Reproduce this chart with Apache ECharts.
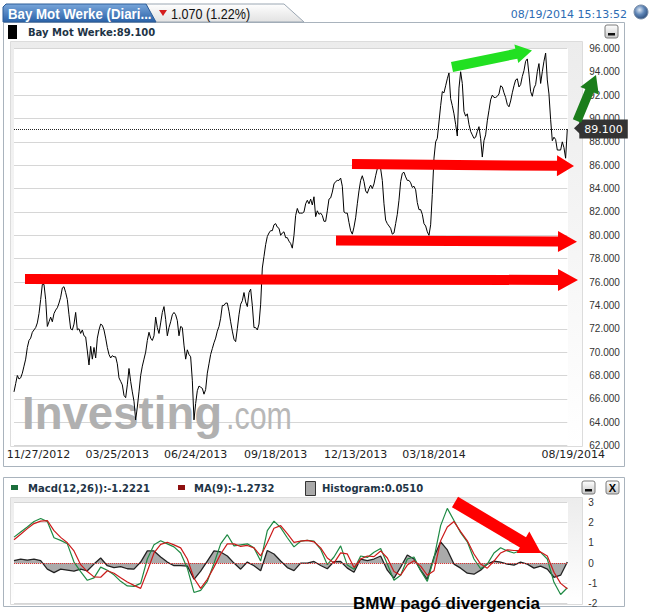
<!DOCTYPE html>
<html><head><meta charset="utf-8">
<script src="https://cdn.jsdelivr.net/npm/echarts@6/dist/echarts.min.js"></script>
<style>html,body{margin:0;padding:0;background:#fff;} #c{width:670px;height:612px;}</style>
</head><body><div id="c"></div><script>
// ---------------- data ----------------
const priceValues = [
66.6,67.3,68,67.7,67.8,68.2,68.8,69.4,70.4,71,
71.2,71.7,71.9,72.1,72.5,73.3,74.5,75.8,75.8,74.5,
72.2,72.6,73,72.6,73.3,73.6,73.8,74.2,74.7,75.5,
75.6,75.1,74.5,73.2,72,71.9,72.4,73.4,71.9,72,
71.6,71.9,71.4,71.3,70.1,68.9,70.5,69.4,70.4,69.5,
71.2,71.9,72.4,72.3,71.9,71.2,70.4,69.8,69.5,69.7,
69.6,69.6,69,67.8,67.5,67.2,66.3,66.1,67.2,68.6,
67.5,66.6,65.8,64.2,65.3,66.6,68,68.8,69.4,70,
71,71.7,71.2,71,71.4,
73.0,72.1,71.6,72.5,73.4,73.9,72.8,71.4,72.1,72.6,
73.2,73.4,73.2,72.7,71.4,72.2,72.1,70.6,69.4,70.2,
69.8,69.6,67.6,64.2,65.6,66.7,67.1,67,66.9,66.4,
66.8,68.2,69,69.8,70.3,70.8,71.2,71.8,72.2,72.9,
74,74,74.2,74.2,73.5,72.6,71.8,71.1,70.9,72,
73.2,74.1,74.4,75.1,74.3,73.9,75.1,75.4,74,72.1,
72.1,71.9,72.4,74.1,77.2,78.2,79.2,79.9,80.2,80.4,
80.4,80.9,81,80.7,80.6,80,80.2,80.3,79.8,79.8,
79.5,79.3,78.9,80.0,
81.7,82.3,81.9,81.9,81.9,82,82.7,83,82.7,83.1,
82.6,83.3,81.6,82.1,81.8,81.9,81.7,81.2,81.2,82.1,
83.1,83.2,83.7,84.4,84.6,84.7,84.7,84.9,84.2,82,
81.9,81.9,81.1,80.4,80.1,80.7,81.5,82.7,83.8,84.7,
85.1,84.6,83.8,83.6,84,84.3,84,84.4,85.1,85.7,
86,85.7,84.7,82.7,81.3,81,80.8,80.6,80.1,80.2,
81,81.8,83,84.6,85.3,85.4,85,84.7,84.7,84.5,
84.1,84.2,83.9,82.8,82.2,82.2,81.8,81,80.8,80.3,
80,80.9,83.5,86.6,
88.0,88.3,89.7,91.1,92.3,92.2,92.8,93.4,93.9,91.7,
91.1,90.4,89.5,88.5,92.6,94,93,90.6,90.2,90.4,
89.5,88.9,88.6,88.3,88.4,88.9,89.3,88.3,86.7,88.1,
88.6,89.8,90.7,91.6,92,91.8,91.8,91.9,92.1,92.8,
92.7,92.2,91.8,91.2,91,91.5,92.2,92.8,93.3,93.4,
92.7,92.9,93.6,94.1,94.9,95.1,93.8,92.3,91.9,92.6,
92.9,94,94.7,93,94,94.9,95.6,93.3,92.1,89.9,
88.1,88.4,88.2,87.3,87.3,87.3,88,87.5,86.6,89.1
];
const dateLabels = ['11/27/2012','03/25/2013','06/24/2013','09/18/2013','12/13/2013','03/18/2014','08/19/2014'];
const dateLabelIdx = [0,62,109,157,205,252,332];
const priceTicks = {min:62, max:96, step:2};

const macdValues = [
1.28,1.53,1.78,2.05,2.2,2.05,1.25,1.12,0.95,0.05,
-0.42,-0.85,-0.73,-0.2,-0.35,-0.58,-0.9,-1.13,-1.15,-1.0,
0.2,0.9,1.1,0.95,0.8,0.5,-0.25,-1.45,-1.35,-0.9,
-0.02,0.95,1.4,0.85,0.9,0.95,0.75,0.1,1.6,2.07,
1.75,1.25,0.8,1.08,1.12,1.08,0.68,-0.08,0.3,0.85,
-0.1,-0.3,0.35,0.28,0.53,0.72,-0.05,-0.85,-0.6,0.2,
0.3,-0.38,-0.9,0.25,1.85,2.7,2.1,1.5,1.05,0.2,
-0.28,-0.05,0.5,0.76,0.6,0.5,0.62,0.72,0.55,0.53,
0.2,-0.95,-1.55,-1.22
];
const signalValues = [
1.15,1.42,1.7,1.95,2.07,2.1,1.6,1.27,1.0,0.6,
-0.08,-0.42,-0.68,-0.7,-0.38,-0.5,-0.72,-0.93,-1.1,-1.25,
-0.4,0.5,0.92,1.03,0.9,0.75,0.2,-0.75,-1.25,-0.8,
-0.2,0.45,0.95,0.95,0.82,0.87,0.75,0.35,1.0,1.72,
1.85,1.45,1.02,1.08,1.12,1.05,0.75,0.25,0.0,0.5,
0.45,-0.22,0.2,0.35,0.32,0.6,0.25,-0.42,-0.6,-0.1,
0.12,-0.15,-0.6,-0.38,1.1,1.78,2.05,1.55,1.1,0.45,
-0.05,-0.25,0.1,0.5,0.65,0.62,0.62,0.65,0.65,0.55,
0.35,-0.45,-1.0,-1.27
];
const histValues = [
0.12,0.2,0.15,0.2,0.12,-0.3,-0.47,-0.3,-0.35,-0.4,
-0.3,-0.38,-0.05,0.25,-0.13,-0.22,-0.18,-0.28,-0.3,0.05,
0.6,0.6,0.3,0.05,-0.13,-0.13,-0.15,-0.8,-0.4,0.1,
0.6,0.55,0.35,0.0,-0.3,0.05,-0.13,-0.38,0.62,0.45,
0.1,-0.22,-0.37,0.0,0.0,0.08,-0.12,-0.28,0.07,0.08,
-0.25,-0.45,0.2,0.12,0.2,0.35,-0.35,-0.75,-0.2,0.4,
0.2,-0.35,-0.8,0.3,1.05,0.65,-0.05,-0.25,-0.5,-0.55,
-0.35,-0.05,0.1,0.05,-0.05,-0.1,0.05,-0.05,-0.25,-0.15,
-0.3,-0.7,-0.6,0.05
];
const macdTicks = {min:-2, max:3, step:1};
const lastPrice = 89.1;

// ---------------- drawing ----------------
const chart = echarts.init(document.getElementById('c'), null, {renderer:'svg'});

function arrow(x1,y1,x2,y2,w,hw,hl,color){
  const dx=x2-x1, dy=y2-y1, L=Math.hypot(dx,dy), ux=dx/L, uy=dy/L, nx=-uy, ny=ux;
  const bx=x2-ux*hl, by=y2-uy*hl;
  const pts=[[x1+nx*w/2,y1+ny*w/2],[bx+nx*w/2,by+ny*w/2],[bx+nx*hw/2,by+ny*hw/2],[x2,y2],
             [bx-nx*hw/2,by-ny*hw/2],[bx-nx*w/2,by-ny*w/2],[x1-nx*w/2,y1-ny*w/2]];
  return {type:'polygon', shape:{points:pts}, style:{fill:color}, z:100};
}
function grad(c1,c2){return new echarts.graphic.LinearGradient(0,0,0,1,[{offset:0,color:c1},{offset:1,color:c2}]);}
function minBtn(x,y){
  return [{type:'rect', shape:{x:x,y:y,width:13,height:13,r:2}, style:{fill:grad('#ffffff','#c8c8c8'), stroke:'#7a7a7a', lineWidth:1}, z:50},
          {type:'rect', shape:{x:x+3,y:y+8,width:7,height:2.5}, style:{fill:'#111'}, z:51}];
}
function closeBtn(x,y){
  return [{type:'rect', shape:{x:x,y:y,width:13,height:13,r:2}, style:{fill:grad('#ffffff','#c8c8c8'), stroke:'#7a7a7a', lineWidth:1}, z:50},
          {type:'text', x:x+6.5, y:y+7, style:{text:'X', font:'bold 11px "Liberation Sans"', fill:'#000', textAlign:'center', textVerticalAlign:'middle'}, z:51}];
}
function txt(x,y,text,font,fill,opts){
  return Object.assign({type:'text', x:x, y:y, style:{text:text, font:font, fill:fill, textAlign:'left', textVerticalAlign:'middle'}, z:60}, opts||{});
}

const graphics = [
  // main frame
  {type:'rect', shape:{x:3.5,y:22.5,width:621,height:444}, style:{fill:'#fff', stroke:'#a9b3bd', lineWidth:1}, z:-20},
  {type:'rect', shape:{x:10.5,y:41.5,width:572,height:405}, style:{fill:grad('#ececec','#ffffff'), stroke:'#dcdcdc', lineWidth:1}, z:-19},
  {type:'rect', shape:{x:14,y:48,width:554,height:398}, style:{fill:'#ffffff'}, z:-18},
  // macd frame
  {type:'rect', shape:{x:3.5,y:477.5,width:621,height:129}, style:{fill:'#fff', stroke:'#a9b3bd', lineWidth:1}, z:-20},
  {type:'rect', shape:{x:10.5,y:497.5,width:572,height:107}, style:{fill:grad('#ececec','#ffffff'), stroke:'#dcdcdc', lineWidth:1}, z:-19},
  {type:'rect', shape:{x:14,y:502,width:554,height:102}, style:{fill:'#ffffff'}, z:-18},
  // header tabs
  {type:'polygon', shape:{points:[[146,4],[284,4],[304,22],[154,22]]}, style:{fill:grad('#fefefe','#e2e2e2'), stroke:'#9aa6b2', lineWidth:1}, z:10},
  {type:'polygon', shape:{points:[[3,22],[3,7],[6,4],[146,4],[156,22]]}, style:{fill:grad('#79a6da','#2a62a8'), stroke:'#2d5c97', lineWidth:1}, z:11},
  txt(8,13.5,'Bay Mot Werke (Diari...','bold 15px "Liberation Sans"','#ffffff',{scaleX:0.885}),
  {type:'polygon', shape:{points:[[159,10],[167,10],[163,16]]}, style:{fill:'#d41c1c'}, z:60},
  txt(171,13.5,'1.070 (1.22%)','15px "Liberation Sans"','#111111',{scaleX:0.84}),
  {type:'text', x:627, y:14, style:{text:'08/19/2014 15:13:52', font:'11px "DejaVu Sans"', fill:'#2d6cb3', textAlign:'right', textVerticalAlign:'middle'}, z:60},
  {type:'circle', shape:{cx:641,cy:12,r:7}, style:{fill:new echarts.graphic.RadialGradient(0.4,0.35,0.7,[{offset:0,color:'#dfe9f5'},{offset:0.5,color:'#5d84b5'},{offset:1,color:'#2a4a78'}]), stroke:'#7a8ea8', lineWidth:1}, z:60},
  // row 2
  {type:'rect', shape:{x:8,y:25,width:9,height:14}, style:{fill:'#000'}, z:60},
  txt(28,32,'Bay Mot Werke:89.100','bold 10px "DejaVu Sans"','#1e3446'),
  ...minBtn(605,25),
  // macd legend
  {type:'rect', shape:{x:11,y:485,width:7,height:5}, style:{fill:'#1b6e3c'}, z:60},
  txt(28,488,'Macd(12,26)):-1.2221','bold 10px "DejaVu Sans"','#1e3446'),
  {type:'rect', shape:{x:178,y:485,width:7,height:5}, style:{fill:'#8e1010'}, z:60},
  txt(194,488,'MA(9):-1.2732','bold 10px "DejaVu Sans"','#1e3446'),
  {type:'rect', shape:{x:305.5,y:481.5,width:10,height:14}, style:{fill:'#a8a8a8', stroke:'#333', lineWidth:1}, z:60},
  txt(322,488,'Histogram:0.0510','bold 10px "DejaVu Sans"','#1e3446'),
  ...minBtn(582,481),
  ...closeBtn(606,481),
  // watermark
  {type:'text', x:22, y:413, scaleX:0.97, style:{text:'Investing', font:'bold 47px "Liberation Sans"', fill:'#b0b0b0', textAlign:'left', textVerticalAlign:'middle'}, z:1},
  {type:'text', x:226, y:416, scaleX:0.8, style:{text:'.com', font:'38px "Liberation Sans"', fill:'#b8b8b8', textAlign:'left', textVerticalAlign:'middle'}, z:1},
  // price tag pointer
  {type:'polygon', shape:{points:[[574,128.3],[580.5,122],[580.5,134.6]]}, style:{fill:'#333'}, z:60},
  // annotation arrows
  arrow(25,279,578,280,10,22,20,'#ff0000'),
  arrow(336,240.5,577,241.7,10,21,19,'#ff0000'),
  arrow(352,164,574,166,10,21,17,'#ff0000'),
  arrow(452,67,532,50.5,10,19,16,'#22e022'),
  arrow(577,121,596,75,9,20,17,'#1b7d1b'),
  arrow(455,502,541,553,12,25,21,'#ff0000'),
  // caption
  txt(353,603,'BMW pagó divergencia','bold 17px "Liberation Sans"','#000000',{z:120})
];

const option = {
  animation:false,
  backgroundColor:'#ffffff',
  graphic: graphics,
  grid:[
    {left:14, top:48.4, width:553.3, height:397.2},
    {left:14, top:502.3, width:553.3, height:101.3}
  ],
  xAxis:[
    {type:'value', gridIndex:0, min:0, max:priceValues.length-1,
     axisLine:{show:false}, axisTick:{show:false}, splitLine:{show:false},
     axisLabel:{customValues:dateLabelIdx, margin:3, color:'#222', fontFamily:'DejaVu Sans', fontSize:11,
       formatter:function(v){
         const i=dateLabelIdx.indexOf(Math.round(v)); if(i<0) return '';
         if(i===0) return '{f|'+dateLabels[i]+'}';
         if(i===dateLabels.length-1) return '{l|'+dateLabels[i]+'}';
         return dateLabels[i];
       },
       rich:{f:{padding:[0,0,0,49],fontFamily:'DejaVu Sans',fontSize:11,color:'#222'},
             l:{padding:[0,0,0,12],fontFamily:'DejaVu Sans',fontSize:11,color:'#222'}}}},
    {type:'value', gridIndex:1, min:0, max:macdValues.length-1, show:false}
  ],
  yAxis:[
    {type:'value', gridIndex:0, position:'right', min:priceTicks.min, max:priceTicks.max, interval:priceTicks.step,
     axisLine:{show:false}, axisTick:{show:false},
     splitLine:{lineStyle:{color:'#d6d6d6', width:1}},
     axisLabel:{margin:22, color:'#333', fontFamily:'Liberation Sans', fontSize:10, padding:[0,0,4,0], formatter:v=>v.toFixed(3)}},
    {type:'value', gridIndex:1, position:'right', min:macdTicks.min, max:macdTicks.max, interval:macdTicks.step,
     axisLine:{show:false}, axisTick:{show:false},
     splitLine:{lineStyle:{color:'#d6d6d6', width:1}},
     axisLabel:{margin:21, color:'#333', fontFamily:'Liberation Sans', fontSize:10}}
  ],
  series:[
    {type:'line', xAxisIndex:0, yAxisIndex:0, data:priceValues.map((v,i)=>[i,v]), showSymbol:false,
     lineStyle:{color:'#000', width:1}, z:5,
     markLine:{silent:true, symbol:'none', animation:false,
       lineStyle:{type:'dotted', color:'#222', width:1},
       label:{show:true, position:'end', distance:12, formatter:lastPrice.toFixed(3), backgroundColor:'#333', color:'#fff',
              padding:[4,5,4,5], fontFamily:'DejaVu Sans', fontSize:11},
       data:[{yAxis:lastPrice}]}},
    {type:'line', xAxisIndex:1, yAxisIndex:1, data:histValues.map((v,i)=>[i,v]), showSymbol:false,
     lineStyle:{color:'#222', width:1.3}, areaStyle:{color:'#aaaaaa', opacity:1, origin:0}, z:3,
     markLine:{silent:true, symbol:'none', label:{show:false}, lineStyle:{type:'dotted', color:'#e03030', width:1}, data:[{yAxis:0}]}},
    {type:'line', xAxisIndex:1, yAxisIndex:1, data:macdValues.map((v,i)=>[i,v]), showSymbol:false,
     lineStyle:{color:'#1f8a44', width:1.2}, z:4},
    {type:'line', xAxisIndex:1, yAxisIndex:1, data:signalValues.map((v,i)=>[i,v]), showSymbol:false,
     lineStyle:{color:'#cc1a1a', width:1.2}, z:5}
  ]
};
chart.setOption(option);
</script></body></html>
